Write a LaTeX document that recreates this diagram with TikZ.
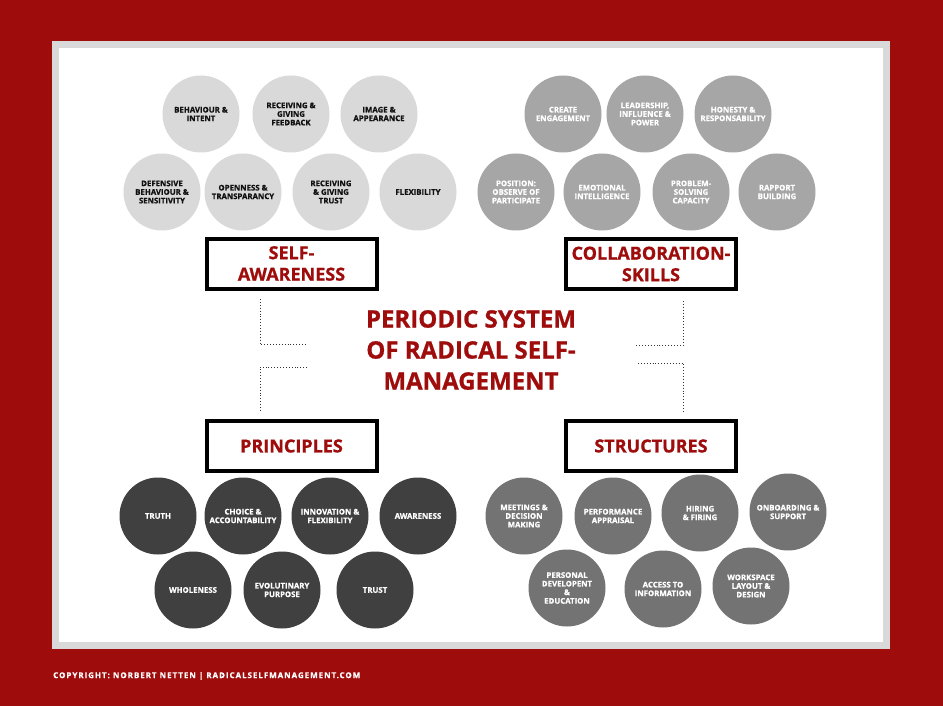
\documentclass[tikz,border=0pt]{standalone}
\usepackage{fontspec}
\setmainfont{Open Sans}[BoldFeatures={FakeBold=0.8}]
\newfontfamily\footfont{Open Sans}[LetterSpace=12,BoldFeatures={FakeBold=0.6}]
\definecolor{cRed}{HTML}{9E0C0C}
\definecolor{cFrame}{HTML}{D9D9D9}
\definecolor{cLight}{HTML}{D9D9D9}
\definecolor{cMid}{HTML}{A6A6A6}
\definecolor{cDark}{HTML}{404040}
\definecolor{cStr}{HTML}{737373}
\definecolor{cText}{HTML}{111111}
\definecolor{cDots}{HTML}{333333}
\begin{document}
\begin{tikzpicture}[x=1pt,y=-1pt,
  bubble/.style={circle,minimum size=77pt,inner sep=0pt,align=center,font=\bfseries\fontsize{7.8}{8.6}\selectfont},
  sab/.style={bubble,fill=cLight,text=cText},
  csb/.style={bubble,fill=cMid,text=white},
  prb/.style={bubble,fill=cDark,text=white},
  stb/.style={bubble,fill=cStr,text=white},
  catbox/.style={draw=black,line width=4pt,fill=white,minimum width=170pt,minimum height=50pt,align=center,text=cRed,inner sep=0pt,font=\bfseries\fontsize{18}{21.5}\selectfont},
  dots/.style={dotted,line width=0.9pt,draw=cDots}]
\path[use as bounding box] (0,0) rectangle (943,706);
\fill[cRed] (0,0) rectangle (943,706);
\fill[cFrame] (52,41) rectangle (890,649);
\fill[white] (59,48) rectangle (883,642);

% Self-awareness
\node[sab] (sa1) at (201,114) {BEHAVIOUR \&\\INTENT};
\node[sab] (sa2) at (291,114) {RECEIVING \&\\GIVING\\FEEDBACK};
\node[sab] (sa3) at (379,114) {IMAGE \&\\APPEARANCE};
\node[sab] (sa4) at (162,192) {DEFENSIVE\\BEHAVIOUR \&\\SENSITIVITY};
\node[sab] (sa5) at (243,192) {OPENNESS \&\\TRANSPARANCY};
\node[sab] (sa6) at (331,192) {RECEIVING\\\& GIVING\\TRUST};
\node[sab] (sa7) at (418,192) {FLEXIBILITY};
\node[catbox] (sa) at (291.5,263.5) {SELF-\\AWARENESS};

% Collaboration
\node[csb] (cs1) at (563,114) {CREATE\\ENGAGEMENT};
\node[csb] (cs2) at (645,114) {LEADERSHIP,\\INFLUENCE \&\\POWER};
\node[csb] (cs3) at (733,114) {HONESTY \&\\RESPONSABILITY};
\node[csb] (cs4) at (516,192) {POSITION:\\OBSERVE OF\\PARTICIPATE};
\node[csb] (cs5) at (602,192) {EMOTIONAL\\INTELLIGENCE};
\node[csb] (cs6) at (691,192) {PROBLEM-\\SOLVING\\CAPACITY};
\node[csb] (cs7) at (777,192) {RAPPORT\\BUILDING};
\node[catbox] (cs) at (651,264) {COLLABORATION-\\SKILLS};

% Principles
\node[catbox] (pr) at (291.5,446) {PRINCIPLES};
\node[prb] (pr1) at (158,516) {TRUTH};
\node[prb] (pr2) at (243,516) {CHOICE \&\\ACCOUNTABILITY};
\node[prb] (pr3) at (330,516) {INNOVATION \&\\FLEXIBILITY};
\node[prb] (pr4) at (418,516) {AWARENESS};
\node[prb] (pr5) at (193,590) {WHOLENESS};
\node[prb] (pr6) at (282,590) {EVOLUTINARY\\PURPOSE};
\node[prb] (pr7) at (375,590) {TRUST};

% Structures
\node[catbox] (st) at (651,446) {STRUCTURES};
\node[stb] (st1) at (524,516) {MEETINGS \&\\DECISION\\MAKING};
\node[stb] (st2) at (613,516) {PERFORMANCE\\APPRAISAL};
\node[stb] (st3) at (700,513) {HIRING\\\& FIRING};
\node[stb] (st4) at (788,512) {ONBOARDING \&\\SUPPORT};
\node[stb] (st5) at (567,588) {PERSONAL\\DEVELOPENT\\\&\\EDUCATION};
\node[stb] (st6) at (663,589) {ACCESS TO\\INFORMATION};
\node[stb] (st7) at (751,586) {WORKSPACE\\LAYOUT \&\\DESIGN};

% Title
\node[align=center,text=cRed,font=\bfseries\fontsize{24}{31}\selectfont] (title) at (471,350)
  {PERIODIC SYSTEM\\OF RADICAL SELF-\\MANAGEMENT};

% Dotted connectors
\coordinate (a1) at (260,299);
\coordinate (a2) at (260,344);
\coordinate (a3) at (305,344);
\coordinate (b1) at (307,367);
\coordinate (b2) at (260,367);
\coordinate (b3) at (260,411);
\coordinate (c1) at (683,301);
\coordinate (c2) at (683,345);
\coordinate (c3) at (635,345);
\coordinate (e1) at (638,363);
\coordinate (e2) at (683,363);
\coordinate (e3) at (683,411);
\draw[dots] (a1) -- (a2) -- (a3);
\draw[dots] (b1) -- (b2) -- (b3);
\draw[dots] (c1) -- (c2) -- (c3);
\draw[dots] (e1) -- (e2) -- (e3);

% Footer
\node[anchor=west,text=white,inner sep=0pt,font=\footfont\bfseries\fontsize{8}{9}\selectfont] (foot) at (53,676)
  {COPYRIGHT: NORBERT NETTEN | RADICALSELFMANAGEMENT.COM};
\end{tikzpicture}
\end{document}
